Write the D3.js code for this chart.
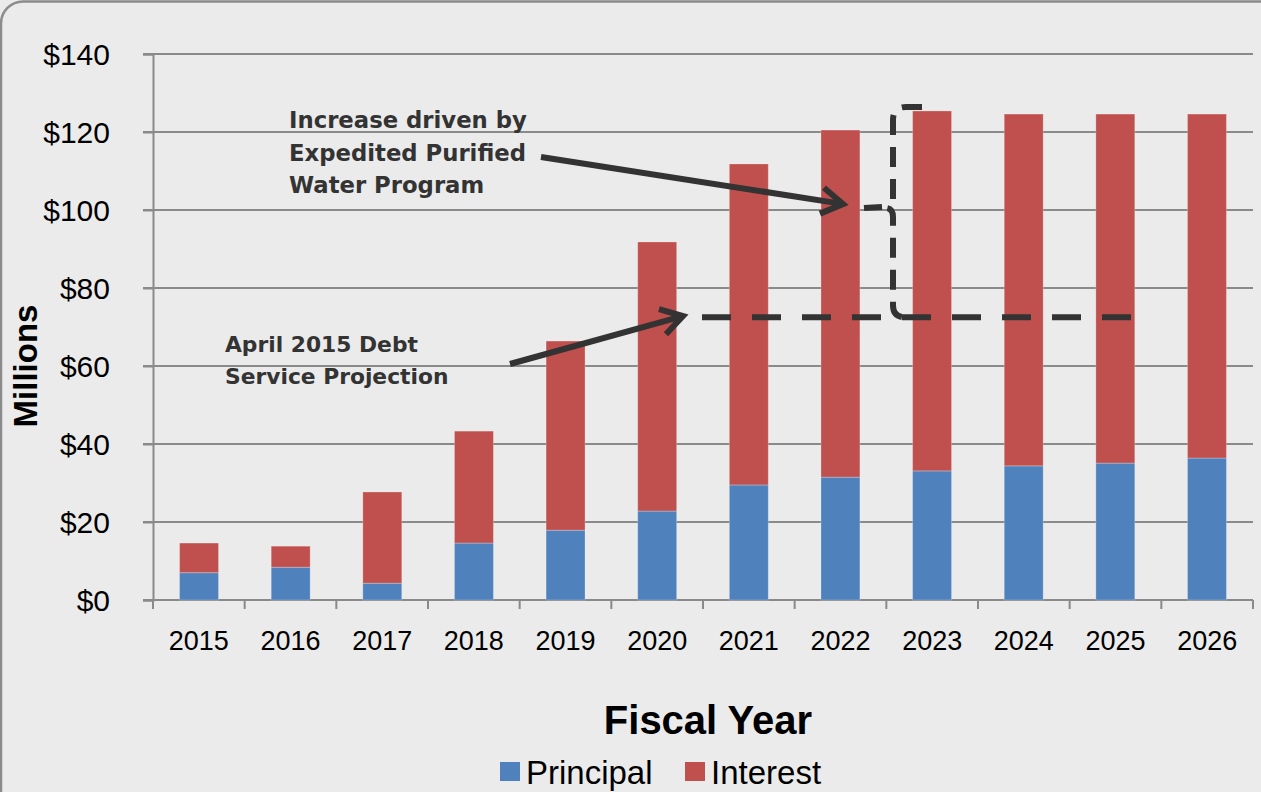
<!DOCTYPE html>
<html><head><meta charset="utf-8">
<script src="https://cdn.jsdelivr.net/npm/d3@7"></script>
<style>body{margin:0;background:#ebebeb;}svg{display:block;}</style>
</head><body>
<svg id="c" width="1261" height="792"></svg>
<script>
const years = ["2015","2016","2017","2018","2019","2020","2021","2022","2023","2024","2025","2026"];
const principal = [7.0, 8.4, 4.3, 14.6, 17.9, 22.8, 29.5, 31.5, 33.1, 34.4, 35.1, 36.4];
const interest  = [7.6, 5.4, 23.4, 28.7, 48.5, 69.0, 82.3, 89.0, 92.3, 90.2, 89.5, 88.2];
const yTicks = [0, 20, 40, 60, 80, 100, 120, 140];
const seriesNames = ["Principal", "Interest"];
const colors = ["#4f81bd", "#c0504d"];
const projection = 72.5;   // April 2015 projection level ($M)

const svg = d3.select("#c");
const W = 1261, H = 792;
svg.append("rect").attr("x", 1).attr("y", 1.5).attr("width", W + 30).attr("height", H + 30)
  .attr("rx", 22).attr("fill", "#ebebeb").attr("stroke", "#8c8c8c").attr("stroke-width", 2.5);

const m = {l: 153, r: 1253, t: 54, b: 600};
const x = d3.scaleBand().domain(years).range([m.l, m.r]).paddingInner(0.575).paddingOuter(0.29);
const xb = d3.scaleBand().domain(years).range([m.l, m.r]);
const y = d3.scaleLinear().domain([0, 140]).range([m.b, m.t]);
const sans = "Liberation Sans, Arial, sans-serif";

// gridlines
svg.append("g").selectAll("line").data(yTicks).join("line")
  .attr("x1", m.l - 10).attr("x2", m.r).attr("y1", d => y(d)).attr("y2", d => y(d))
  .attr("stroke", "#8a8a8a").attr("stroke-width", 2);

// y axis
const ya = svg.append("g").attr("transform", `translate(${m.l},0)`)
  .call(d3.axisLeft(y).tickValues(yTicks).tickSize(10).tickFormat(d => "$" + d));
ya.attr("font-size", null).attr("font-family", null);
ya.select(".domain").attr("stroke", "#8a8a8a").attr("stroke-width", 2);
ya.selectAll(".tick line").attr("stroke", "#8a8a8a").attr("stroke-width", 2);
ya.selectAll("text").style("font-family", sans).style("font-size", "30px")
  .attr("fill", "#000").attr("x", -43).attr("dy", "0.36em");

// x axis
const xa = svg.append("g").attr("transform", `translate(0,${m.b})`);
xa.append("line").attr("x1", m.l).attr("x2", m.r).attr("y1", 0).attr("y2", 0).attr("stroke", "#8a8a8a").attr("stroke-width", 2);
const bounds = years.map(d => xb(d)).concat([xb(years[years.length - 1]) + xb.bandwidth()]);
xa.selectAll("line.t").data(bounds).join("line").attr("class", "t")
  .attr("x1", d => d).attr("x2", d => d).attr("y1", 0).attr("y2", 9).attr("stroke", "#8a8a8a").attr("stroke-width", 2);
xa.selectAll("text").data(years).join("text")
  .attr("x", d => xb(d) + xb.bandwidth() / 2).attr("y", 50).attr("text-anchor", "middle")
  .style("font-family", sans).style("font-size", "27px").attr("fill", "#000").text(d => d);

// bars
const data = years.map((d, i) => ({year: d, Principal: principal[i], Interest: interest[i]}));
const stack = d3.stack().keys(seriesNames)(data);
svg.append("g").selectAll("g").data(stack).join("g")
  .attr("fill", (d, i) => colors[i])
  .selectAll("rect").data(d => d).join("rect")
  .attr("x", d => x(d.data.year)).attr("width", x.bandwidth())
  .attr("y", d => y(d[1])).attr("height", d => y(d[0]) - y(d[1]))
  .attr("stroke", "rgba(255,255,255,0.25)").attr("stroke-width", 1);

// axis titles
svg.append("text").attr("transform", "translate(37,366) rotate(-90)").attr("text-anchor", "middle")
  .style("font-family", sans).attr("font-weight", "bold").style("font-size", "33px").text("Millions");
svg.append("text").attr("x", 708).attr("y", 734).attr("text-anchor", "middle")
  .style("font-family", sans).attr("font-weight", "bold").style("font-size", "40px").text("Fiscal Year");

// legend
const lg = svg.append("g");
const legX = [500, 685];
seriesNames.forEach((s, i) => {
  lg.append("rect").attr("x", legX[i]).attr("y", 762).attr("width", 20).attr("height", 19).attr("fill", colors[i]);
  lg.append("text").attr("x", legX[i] + 26).attr("y", 784).style("font-family", sans)
    .style("font-size", "33px").attr("fill", "#000").text(s);
});

// annotations
const ink = "#333333";
const ann = svg.append("g");
// projection dashed line
ann.append("line").attr("x1", 702).attr("x2", 1136).attr("y1", y(projection)).attr("y2", y(projection))
  .attr("stroke", ink).attr("stroke-width", 6).attr("stroke-dasharray", "29 21");
// bracket
const bx = 893, yTop = 107, yMid = 208, yBot = y(projection);
ann.append("path").attr("d",
  `M922,${yTop} L906,${yTop} Q${bx},${yTop} ${bx},${yTop + 13} L${bx},${yMid - 9} Q${bx},${yMid - 1} ${bx - 6},${yMid} Q${bx},${yMid + 1} ${bx},${yMid + 9} L${bx},${yBot - 12} Q${bx},${yBot} ${bx + 12},${yBot} L${bx + 16},${yBot}`)
  .attr("fill", "none").attr("stroke", ink).attr("stroke-width", 6).attr("stroke-dasharray", "20 12");
ann.append("line").attr("x1", 864).attr("x2", 882).attr("y1", 208).attr("y2", 207).attr("stroke", ink).attr("stroke-width", 6);

function arrow(x1, y1, x2, y2) {
  const a = Math.atan2(y2 - y1, x2 - x1), L = 25, s = 0.55;
  ann.append("line").attr("x1", x1).attr("y1", y1).attr("x2", x2 - 4 * Math.cos(a)).attr("y2", y2 - 4 * Math.sin(a))
    .attr("stroke", ink).attr("stroke-width", 6);
  ann.append("path").attr("d",
    `M${x2 - L * Math.cos(a - s)},${y2 - L * Math.sin(a - s)} L${x2},${y2} L${x2 - L * Math.cos(a + s)},${y2 - L * Math.sin(a + s)}`)
    .attr("fill", "none").attr("stroke", ink).attr("stroke-width", 6).attr("stroke-linejoin", "miter");
}
arrow(541, 157, 843, 204);
arrow(510, 364, 683, 316);

const font2 = "'DejaVu Sans', Verdana, sans-serif";
function label(lines, x0, ys, w0) {
  lines.forEach((t, i) => {
    const el = ann.append("text").attr("x", x0).attr("y", ys[i]).style("font-family", font2)
      .attr("font-weight", "bold").style("font-size", "22px").attr("fill", ink).text(t);
    if (i === 0) {
      const len = el.node().getComputedTextLength();
      label.fs = 22 * w0 / len;
    }
    el.style("font-size", label.fs + "px");
  });
}
label(["Increase driven by", "Expedited Purified", "Water Program"], 289, [128, 161, 193], 238);
label(["April 2015 Debt", "Service Projection"], 225, [352, 384], 193);
</script>
</body></html>
